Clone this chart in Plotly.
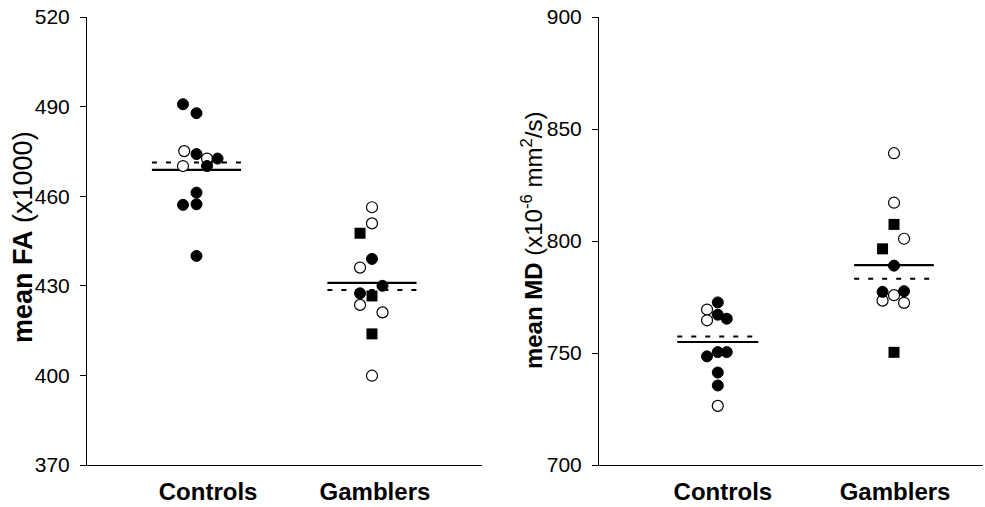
import plotly.graph_objects as go

# ---------------- data ----------------
groups = ["Controls", "Gamblers"]

# Left panel: mean FA (x1000)
fa_ctrl = [490.8, 487.8, 475.1, 474.1, 472.6, 472.6, 470.1, 470.1, 461.2, 457.3, 457.1, 440.0]
fa_ctrl_kind = ["f", "f", "o", "f", "o", "f", "o", "f", "f", "f", "f", "f"]
fa_ctrl_jit = [-0.077, 0, -0.07, 0, 0.06, 0.12, -0.077, 0.06, 0, 0, -0.077, 0]

fa_gamb = [456.3, 450.9, 447.6, 439.0, 436.1, 430.0, 427.5, 426.6, 423.6, 421.1, 413.9, 399.9]
fa_gamb_kind = ["o", "o", "s", "f", "o", "f", "f", "s", "o", "o", "s", "o"]
fa_gamb_jit = [0, 0, -0.068, 0, -0.068, 0.06, -0.068, 0, -0.068, 0.06, 0, 0]

fa_solid = [468.8, 431.0]
fa_dashed = [471.3, 428.6]

# Right panel: mean MD (x10^-6 mm^2/s)
md_ctrl = [772.6, 769.4, 767.1, 765.3, 764.6, 748.5, 750.4, 750.4, 741.3, 735.5, 726.4]
md_ctrl_kind = ["f", "o", "f", "f", "o", "f", "f", "f", "f", "f", "o"]
md_ctrl_jit = [0, -0.061, 0, 0.051, -0.061, -0.061, 0, 0.051, 0, 0, 0]

md_gamb = [839.2, 817.1, 807.4, 801.0, 796.5, 789.0, 777.3, 777.6, 775.8, 773.4, 772.4, 750.3]
md_gamb_kind = ["o", "o", "s", "o", "s", "f", "f", "f", "o", "o", "o", "s"]
md_gamb_jit = [0, 0, 0, 0.057, -0.065, 0, -0.065, 0.057, 0, -0.065, 0.057, 0]

md_solid = [754.9, 789.2]
md_dashed = [757.4, 783.1]

fa_ticks = [370, 400, 430, 460, 490, 520]
md_ticks = [700, 750, 800, 850, 900]

# ---------------- figure ----------------
FONT = "Arial, Liberation Sans, sans-serif"
fig = go.Figure()

styles = {
    "f": dict(symbol="circle", size=11, color="black", line=dict(color="black", width=1)),
    "o": dict(symbol="circle", size=11, color="white", line=dict(color="black", width=1.2)),
    "s": dict(symbol="square", size=11, color="black", line=dict(color="black", width=0)),
}

def add_group(vals, kinds, jit, center, xa, ya):
    for k in ["o", "f", "s"]:
        xs = [center + j for v, kk, j in zip(vals, kinds, jit) if kk == k]
        ys = [v for v, kk in zip(vals, kinds) if kk == k]
        if xs:
            fig.add_trace(go.Scatter(x=xs, y=ys, mode="markers", marker=styles[k],
                                     xaxis=xa, yaxis=ya, showlegend=False, hoverinfo="skip"))

def add_lines(solid, dashed, halfw, xa, ya):
    for i, (s, d) in enumerate(zip(solid, dashed)):
        c = i + 1
        fig.add_trace(go.Scatter(x=[c - halfw[i], c + halfw[i]], y=[d, d], mode="lines",
                                 line=dict(color="black", width=2, dash="5px,9px"),
                                 xaxis=xa, yaxis=ya, showlegend=False, hoverinfo="skip"))
        fig.add_trace(go.Scatter(x=[c - halfw[i], c + halfw[i]], y=[s, s], mode="lines",
                                 line=dict(color="black", width=2.2),
                                 xaxis=xa, yaxis=ya, showlegend=False, hoverinfo="skip"))

add_lines(fa_solid, fa_dashed, [0.254, 0.254], "x", "y")
add_group(fa_ctrl, fa_ctrl_kind, fa_ctrl_jit, 1, "x", "y")
add_group(fa_gamb, fa_gamb_kind, fa_gamb_jit, 2, "x", "y")

add_lines(md_solid, md_dashed, [0.23, 0.226], "x2", "y2")
add_group(md_ctrl, md_ctrl_kind, md_ctrl_jit, 1, "x2", "y2")
add_group(md_gamb, md_gamb_kind, md_gamb_jit, 2, "x2", "y2")

W, H = 985, 507
xcommon = dict(showline=True, linecolor="black", linewidth=1, showgrid=False, zeroline=False,
               ticks="", ticklen=0, automargin=False, ticklabelstandoff=5,
               tickfont=dict(family=FONT, size=24, color="black", weight="bold"))
ycommon = dict(showline=True, linecolor="black", linewidth=1, showgrid=False, zeroline=False,
               ticks="outside", ticklen=6, tickcolor="black", tickwidth=1, automargin=False,
               tickfont=dict(family=FONT, size=21, color="black"), ticklabelstandoff=6)

fig.update_layout(
    width=W, height=H, plot_bgcolor="white", paper_bgcolor="white",
    margin=dict(l=0, r=0, t=17, b=42, autoexpand=False),
    xaxis=dict(xcommon, domain=[87 / W, 482 / W], range=[0.376, 2.627],
               tickvals=[1.066, 2.017], ticktext=groups, anchor="y"),
    yaxis=dict(ycommon, domain=[0, 1], range=[370, 520], tickvals=fa_ticks, anchor="x"),
    xaxis2=dict(xcommon, domain=[599 / W, 983 / W], range=[0.326, 2.505],
                tickvals=[1.029, 2.006], ticktext=groups, anchor="y2"),
    yaxis2=dict(ycommon, domain=[0, 1], range=[700, 900], tickvals=md_ticks, anchor="x2"),
    annotations=[
        dict(text="<b>mean FA</b> (x1000)", textangle=-90, xref="paper", yref="paper",
             x=23 / W, y=0.509, xanchor="center", yanchor="middle", showarrow=False,
             font=dict(family=FONT, size=27, color="black")),
        dict(text="<b>mean MD</b> (x10<sup>-6</sup> mm<sup>2</sup>/s)", textangle=-90,
             xref="paper", yref="paper", x=532 / W, y=0.502, xanchor="center",
             yanchor="middle", showarrow=False,
             font=dict(family=FONT, size=24, color="black")),
    ],
)

fig.write_html("out.html", config={"displayModeBar": False},
               post_script="document.body.style.margin='0';document.body.style.padding='0';")
